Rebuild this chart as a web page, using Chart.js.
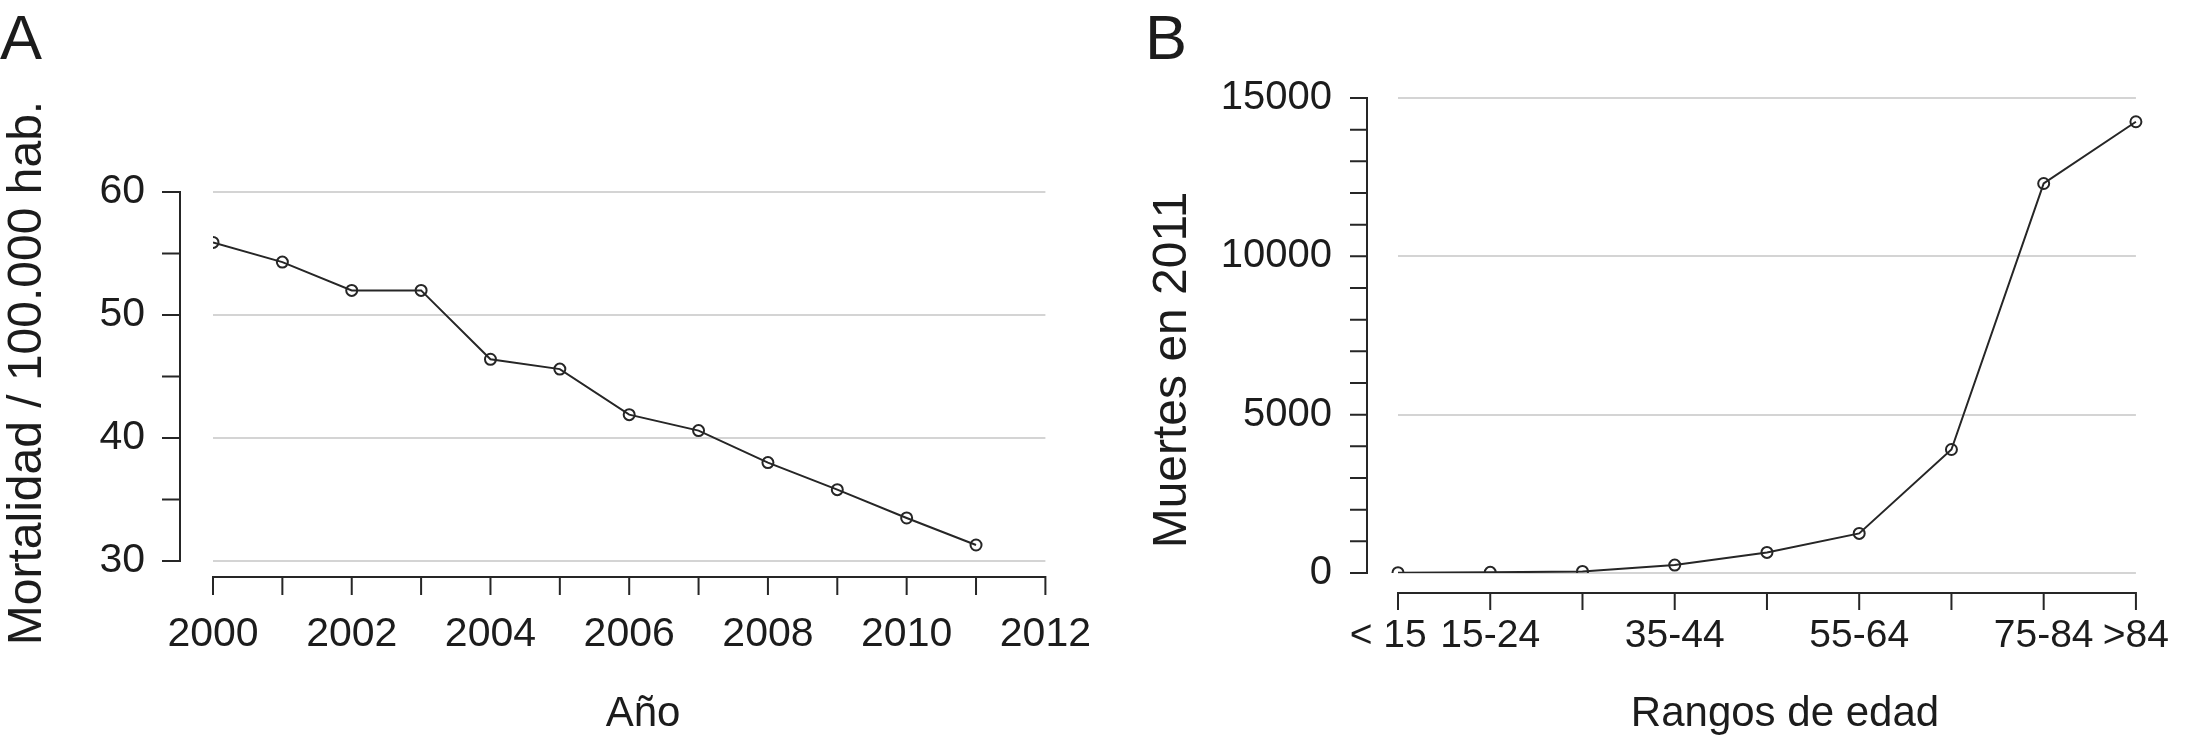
<!DOCTYPE html>
<html><head><meta charset="utf-8">
<script src="https://cdn.jsdelivr.net/npm/chart.js@4.4.0/dist/chart.umd.min.js"></script>
<style>
html,body{margin:0;padding:0;background:#fff;}
body{width:2209px;height:735px;position:relative;overflow:hidden;font-family:"Liberation Sans",Arial,Helvetica,sans-serif;color:#1c1c1c;}
.box{position:absolute;top:0;height:735px;}
.lbl{position:absolute;line-height:1;white-space:nowrap;}
.c{text-align:center;width:600px;}
.rot{transform-origin:50% 50%;transform:rotate(-90deg);}
</style></head><body>
<div class="box" style="left:0;width:1140px"><canvas id="ca"></canvas></div>
<div class="box" style="left:1100px;width:1109px"><canvas id="cb"></canvas></div>

<div class="lbl" style="left:0px;top:6px;font-size:63px">A</div>
<div class="lbl" style="left:1145px;top:6px;font-size:63px">B</div>
<div class="lbl c" style="left:343px;top:691px;font-size:42px">Año</div>
<div class="lbl c" style="left:1485px;top:691px;font-size:42px">Rangos de edad</div>
<div class="lbl c rot" style="left:-275px;top:349px;font-size:48px;height:48px">Mortalidad / 100.000 hab.</div>
<div class="lbl c rot" style="left:870px;top:346px;font-size:48px;height:48px">Muertes en 2011</div>

<script>
// ---- Panel A data ----
const yearsA = [2000, 2001, 2002, 2003, 2004, 2005, 2006, 2007, 2008, 2009, 2010, 2011];
const mortalidadA = [55.9, 54.3, 52.0, 52.0, 46.4, 45.6, 41.9, 40.6, 38.0, 35.8, 33.5, 31.3];
const yTicksA = [30, 35, 40, 45, 50, 55, 60];
const xTicksA = [2000, 2001, 2002, 2003, 2004, 2005, 2006, 2007, 2008, 2009, 2010, 2011, 2012];

// ---- Panel B data ----
const edadesB = ['< 15', '15-24', '25-34', '35-44', '45-54', '55-64', '65-74', '75-84', '>84'];
const muertesB = [10, 20, 50, 250, 650, 1250, 3900, 12300, 14250];
const edadesShownB = ['< 15', '15-24', '35-44', '55-64', '75-84', '>84'];
const yTicksB = [0, 1000, 2000, 3000, 4000, 5000, 6000, 7000, 8000, 9000, 10000, 11000, 12000, 13000, 14000, 15000];

const INK = '#262626';
const TXT = '#1c1c1c';
const GRID = '#d4d4d4';
const FONT = '"Liberation Sans", Arial, Helvetica, sans-serif';

// R-style detached axes drawn through the chart's own scales
const rAxes = {
  id: 'rAxes',
  afterDraw(chart, args, o) {
    const {ctx, chartArea, scales} = chart;
    const xs = scales.x, ys = scales.y;
    ctx.save();
    ctx.strokeStyle = INK;
    ctx.lineWidth = 2;
    ctx.lineCap = 'butt';
    ctx.beginPath();
    const ax = chartArea.left - o.yGap;
    const yT = o.yTicks.map(v => ys.getPixelForValue(v));
    ctx.moveTo(ax, Math.min(...yT) - 1); ctx.lineTo(ax, Math.max(...yT) + 1);
    yT.forEach(p => { ctx.moveTo(ax, p); ctx.lineTo(ax - o.tickLen, p); });
    const ay = chartArea.bottom + o.xGap;
    const xT = o.xTicks.map(v => xs.getPixelForValue(v));
    ctx.moveTo(Math.min(...xT) - 1, ay); ctx.lineTo(Math.max(...xT) + 1, ay);
    xT.forEach(p => { ctx.moveTo(p, ay); ctx.lineTo(p, ay + o.tickLen); });
    ctx.stroke();
    ctx.restore();
  }
};
Chart.register(rAxes);

const common = (extra) => ({
  responsive: true,
  maintainAspectRatio: false,
  animation: false,
  events: [],
  ...extra
});

const ds = (data) => ({
  data,
  borderColor: INK,
  borderWidth: 2,
  tension: 0,
  fill: false,
  pointStyle: 'circle',
  pointRadius: 5.5,
  pointBorderWidth: 2,
  pointBorderColor: INK,
  pointBackgroundColor: 'rgba(255,255,255,0)'
});

new Chart(document.getElementById('ca'), {
  type: 'line',
  data: { datasets: [ds(yearsA.map((y, i) => ({ x: y, y: mortalidadA[i] })))] },
  options: common({
    layout: { padding: { left: 0, top: 192, right: 67, bottom: 0 } },
    scales: {
      x: {
        type: 'linear', min: 2000, max: 2012,
        afterFit: s => { s.height = 174; },
        grid: { display: false, drawTicks: false },
        border: { display: false },
        ticks: { stepSize: 2, padding: 49, maxRotation: 0, autoSkip: false, color: TXT,
                 font: { family: FONT, size: 41 }, callback: v => String(v) }
      },
      y: {
        min: 30, max: 60,
        afterFit: s => { s.width = 213; },
        grid: { color: GRID, lineWidth: 2, drawTicks: false },
        border: { display: false },
        ticks: { stepSize: 10, padding: 68, color: TXT,
                 font: { family: FONT, size: 41 }, callback: v => String(v) }
      }
    },
    plugins: { legend: { display: false }, tooltip: { enabled: false },
      rAxes: { yGap: 33, xGap: 16, tickLen: 18, yTicks: yTicksA, xTicks: xTicksA } }
  })
});

new Chart(document.getElementById('cb'), {
  type: 'line',
  data: { labels: edadesB, datasets: [ds(muertesB)] },
  options: common({
    layout: { padding: { left: 0, top: 98, right: 41, bottom: 0 } },
    scales: {
      x: {
        type: 'category', offset: false,
        afterFit: s => { s.height = 162; },
        grid: { display: false, drawTicks: false },
        border: { display: false },
        ticks: { padding: 40, maxRotation: 0, autoSkip: false, color: TXT,
                 font: { family: FONT, size: 39 },
                 callback: (v, i) => edadesShownB.includes(edadesB[i])
                   ? (i === 0 ? edadesB[i] + '\u2002' : edadesB[i]) : null }
      },
      y: {
        min: 0, max: 15000,
        afterFit: s => { s.width = 298; },
        grid: { color: GRID, lineWidth: 2, drawTicks: false },
        border: { display: false },
        ticks: { stepSize: 5000, padding: 66, color: TXT,
                 font: { family: FONT, size: 40 }, callback: v => String(v) }
      }
    },
    plugins: { legend: { display: false }, tooltip: { enabled: false },
      rAxes: { yGap: 31, xGap: 20, tickLen: 17, yTicks: yTicksB, xTicks: edadesB.map((_, i) => i) } }
  })
});
</script>
</body></html>
